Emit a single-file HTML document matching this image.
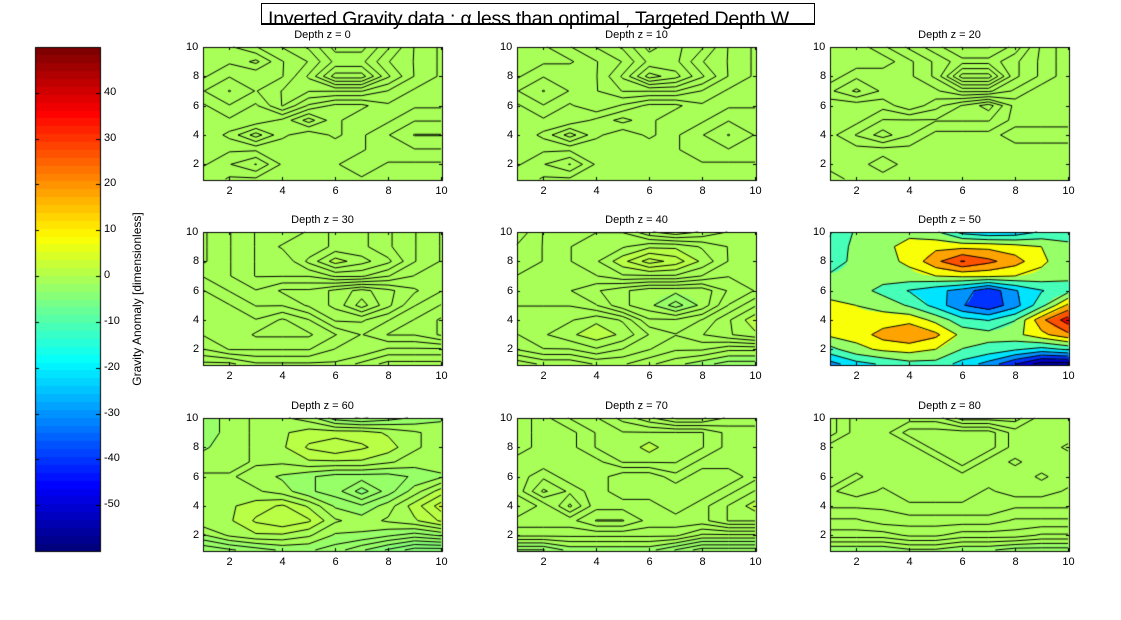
<!DOCTYPE html>
<html><head><meta charset="utf-8">
<style>
body{margin:0;background:#fff;width:1121px;height:620px;overflow:hidden;position:relative;font-family:"Liberation Sans",sans-serif;}
canvas{position:absolute;left:0;top:0}
.t{position:absolute;font-size:11px;color:#000;white-space:nowrap}
.st{position:absolute;font-size:11px;color:#000;white-space:nowrap;transform:translateX(-50%)}
</style></head><body>
<canvas id="c" width="1121" height="620"></canvas>
<div style="position:absolute;left:261px;top:3px;width:552px;height:20px;border:1px solid #000;background:#fff"></div>
<div id="title" style="position:absolute;left:268px;top:8px;font-size:19.5px;white-space:nowrap;letter-spacing:-0.2px">Inverted Gravity data : α less than optimal , Targeted Depth W</div>
<div style="position:absolute;left:261px;top:23px;width:554px;height:1px;background:#000"></div>
<div style="position:absolute;left:137px;top:299px;font-size:12px;white-space:nowrap;transform:translate(-50%,-50%) rotate(-90deg)">Gravity Anomaly [dimensionless]</div>
<div id="labels"></div>
<script>
const titles=["Depth z = 0","Depth z = 10","Depth z = 20","Depth z = 30","Depth z = 40","Depth z = 50","Depth z = 60","Depth z = 70","Depth z = 80"];
const xTicks=[2,4,6,8,10];
const yTicks=[2,4,6,8,10];
const cbTicks=[40,30,20,10,0,-10,-20,-30,-40,-50];
const cMin=-60, cMax=50;
// grids: rows listed from y=10 (top) down to y=1
const z0=[[-.8,-.8,-.65,-.5,-.35,-.05,-.05,-.35,-.65,-.8],[-.8,-.8,-.95,-.65,-.5,-.2,-.2,-.5,-.65,-.8],[-.8,-.65,-.65,-.65,-.35,.1,.1,-.35,-.65,-.8],[-.65,-.5,-.65,-.5,-.5,-.5,-.5,-.65,-.8,-.8],[-.8,-.65,-.8,-.5,-.8,-.95,-.95,-.8,-.8,-.8],[-.8,-.8,-.8,-.95,-1.25,-.95,-.8,-.8,-.65,-.65],[-.8,-.95,-1.25,-.95,-.8,-.95,-.8,-.65,-.5,-.5],[-.8,-.8,-.8,-.8,-.8,-.8,-.8,-.65,-.65,-.65],[-.8,-.65,-.5,-.8,-.8,-.8,-.65,-.8,-.8,-.8],[-.65,-.8,-.8,-.8,-.8,-.8,-.8,-.8,-.8,-.8]];
const z10=[[-.8,-.8,-.65,-.5,-.35,-.05,-.2,-.35,-.65,-.8],[-.8,-.8,-.8,-.65,-.5,-.2,-.2,-.5,-.65,-.8],[-.8,-.65,-.65,-.65,-.35,.1,-.05,-.35,-.65,-.8],[-.65,-.5,-.65,-.65,-.5,-.5,-.5,-.65,-.8,-.8],[-.8,-.65,-.8,-.65,-.8,-.95,-.95,-.8,-.8,-.8],[-.8,-.8,-.8,-.95,-1.1,-.95,-.8,-.8,-.65,-.65],[-.8,-.95,-1.25,-.95,-.8,-.95,-.8,-.65,-.5,-.65],[-.8,-.8,-.8,-.8,-.8,-.8,-.8,-.65,-.65,-.65],[-.8,-.65,-.5,-.8,-.8,-.8,-.8,-.8,-.8,-.8],[-.65,-.8,-.8,-.8,-.8,-.8,-.8,-.8,-.8,-.8]];
const z20=[[-.8,-.8,-.65,-.5,-.35,-.2,-.2,-.35,-.65,-.8],[-.8,-.8,-.8,-.65,-.5,-.35,-.35,-.5,-.65,-.8],[-.8,-.65,-.65,-.65,-.5,-.05,-.05,-.5,-.65,-.8],[-.65,-.5,-.65,-.65,-.65,-.5,-.5,-.65,-.8,-.8],[-.8,-.8,-.8,-.65,-.8,-.95,-1.1,-.8,-.8,-.8],[-.8,-.8,-.95,-.95,-.95,-.95,-.95,-.8,-.8,-.8],[-.8,-.95,-1.1,-.95,-.8,-.8,-.8,-.65,-.65,-.65],[-.8,-.8,-.8,-.8,-.8,-.8,-.8,-.8,-.8,-.8],[-.8,-.8,-.65,-.8,-.8,-.8,-.8,-.8,-.8,-.8],[-.65,-.8,-.8,-.8,-.8,-.8,-.8,-.8,-.8,-.8]];
const z30=[[-.9,-.7,-.5,-.5,-.3,-.1,-.1,-.3,-.5,-.7],[-.9,-.7,-.5,-.3,-.3,-.1,-.1,-.3,-.5,-.7],[-.9,-.7,-.5,-.5,-.1,.3,.1,-.1,-.5,-.7],[-.7,-.7,-.5,-.5,-.5,-.3,-.3,-.5,-.7,-.7],[-.5,-.7,-.7,-.9,-.9,-1.1,-1.3,-1.1,-.9,-.7],[-.5,-.5,-.7,-.7,-.9,-1.1,-1.5,-1.1,-.7,-.5],[-.5,-.5,-.5,-.3,-.5,-.9,-.9,-.7,-.5,-.3],[-.5,-.5,-.3,-.3,-.3,-.5,-.7,-.5,-.5,-.3],[-.7,-.5,-.5,-.5,-.5,-.7,-.7,-.9,-.9,-.9],[-1.1,-1.1,-.9,-.9,-.9,-.9,-1.1,-1.3,-1.3,-1.3]];
const z40=[[-1,-.5,-.25,-.25,-.25,-.75,-1,-.75,-.5,-.5],[-.75,-.5,-.25,0,0,.25,.25,0,-.25,-.5],[-.75,-.5,-.25,0,.5,1,.75,.25,-.25,-.5],[-.5,-.5,-.25,-.25,0,0,0,-.25,-.5,-.5],[-.25,-.25,-.5,-.75,-1,-1.25,-1.25,-1.25,-.75,-.5],[-.25,-.25,-.25,-.5,-1,-1.25,-1.75,-1.25,-.5,0],[0,0,0,.25,0,-.75,-.75,-.5,0,.5],[-.25,0,.25,.5,.25,-.25,-.5,-.25,0,.25],[-.5,-.25,-.25,0,-.25,-.5,-.75,-.75,-1,-1],[-1.25,-1,-1,-.75,-.75,-1,-1.25,-1.5,-1.75,-1.75]];
const z50=[[-12,0,5,5,0,-15,-20,-18,-10,-5],[-10,2,5,12,15,15,15,12,8,0],[-8,2,5,10,25,38,30,22,10,2],[0,2,3,5,8,10,10,8,5,0],[5,3,-5,-12,-18,-25,-38,-22,-12,-5],[10,8,5,-3,-15,-30,-38,-25,-5,20],[12,10,12,15,5,-8,-12,-2,25,42],[10,12,22,26,20,5,2,5,15,25],[-5,5,10,12,8,-2,-5,-10,-15,-10],[-25,-15,-10,-5,-5,-15,-25,-40,-55,-55]];
const z60=[[-1.5,-.5,0,0,-.5,-2,-2.5,-2,-1.5,-1],[-1.5,-.5,0,.5,1,1,1,.5,0,-.5],[-1,-.5,0,.5,1.5,2,1.5,1,0,-.5],[-.5,-.5,0,0,.5,.5,.5,0,-.5,-.5],[0,0,-.5,-1,-1.5,-2,-2,-2,-1.5,-1],[.5,.5,0,-.5,-1.5,-2,-3.5,-2,-.5,1],[.5,.5,1,1.5,.5,-1,-1.5,-.5,1,2.5],[.5,.5,1.5,2,1.5,0,-.5,0,.5,1.5],[-1,0,.5,.5,0,-1,-1,-1.5,-2,-1.5],[-3,-2.5,-2,-1.5,-1.5,-2,-3,-4,-5,-5]];
const z70=[[-.9,-.5,-.1,-.1,-.5,-.9,-1.3,-1.3,-.9,-.9],[-.9,-.5,-.5,-.1,-.1,-.1,-.1,-.1,-.5,-.5],[-.9,-.5,-.5,-.1,-.1,.3,-.1,-.1,-.5,-.5],[-.5,-.5,-.5,-.5,-.1,-.1,-.1,-.5,-.5,-.5],[-.5,-.9,-.5,-.5,-.9,-.9,-.5,-.9,-.9,-.5],[-.5,-1.3,-.9,-.5,-.9,-.9,-.9,-.9,-.5,-.1],[-.1,-.5,-1.3,-.5,-.5,-.5,-.9,-.5,-.1,.3],[-.5,-.5,-.5,-.1,-.1,-.5,-.5,-.5,-.1,-.1],[-.9,-.9,-.9,-.9,-.9,-.9,-.9,-1.3,-1.3,-1.3],[-2.1,-2.1,-1.7,-1.7,-1.7,-1.7,-2.1,-2.5,-2.5,-2.5]];
const z80=[[-.8,-.5,-.5,-.5,-.5,-.8,-.8,-.8,-.5,-.5],[-.8,-.5,-.5,-.2,-.2,-.2,-.2,-.5,-.5,-.5],[-.5,-.5,-.5,-.5,-.2,-.2,-.2,-.5,-.5,-.6],[-.5,-.5,-.5,-.5,-.5,-.2,-.5,-.6,-.5,-.5],[-.5,-.6,-.5,-.5,-.5,-.5,-.5,-.5,-.6,-.5],[-.6,-.5,-.6,-.5,-.5,-.5,-.6,-.5,-.5,-.6],[-.7,-.7,-.7,-.6,-.6,-.6,-.6,-.7,-.7,-.7],[-.9,-.9,-.8,-.8,-.8,-.8,-.8,-.9,-.9,-.9],[-1.1,-1.1,-1.1,-1,-1,-1.1,-1.1,-1.1,-1.2,-1.2],[-1.6,-1.6,-1.6,-1.5,-1.5,-1.6,-1.6,-1.7,-1.7,-1.7]];
const grids=[z0,z10,z20,z30,z40,z50,z60,z70,z80];

const colL=[203,517,830], rowT=[47,232,418], PW=239, PH=133;
function jet(t){t=Math.max(0,Math.min(1,t));t=Math.min(63,Math.floor(t*64))/63;
 const r=Math.max(0,Math.min(1,Math.min(4*t-1.5,-4*t+4.5))),g=Math.max(0,Math.min(1,Math.min(4*t-0.5,-4*t+3.5))),b=Math.max(0,Math.min(1,Math.min(4*t+0.5,-4*t+2.5)));
 return [r*255|0,g*255|0,b*255|0];}
const cv=document.getElementById('c'),ctx=cv.getContext('2d');
const lab=document.getElementById('labels');
function addText(cls,x,y,txt,name){const d=document.createElement('div');d.className=cls;d.style.left=x+'px';d.style.top=y+'px';d.textContent=txt;
 
 
 lab.appendChild(d);}
const cbX=35,cbY=47,cbW=65,cbH=504;
for(let py=0;py<cbH;py++){const v=cMax-(py/cbH)*(cMax-cMin);const c=jet((v-cMin)/(cMax-cMin));ctx.fillStyle=`rgb(${c})`;ctx.fillRect(cbX,cbY+py,cbW,1);}
ctx.strokeStyle='#000';ctx.lineWidth=1;ctx.strokeRect(cbX+0.5,cbY+0.5,cbW,cbH);
cbTicks.forEach(v=>{const y=cbY+(cMax-v)/(cMax-cMin)*cbH;ctx.beginPath();ctx.moveTo(cbX+cbW-4,Math.round(y)+0.5);ctx.lineTo(cbX+cbW,Math.round(y)+0.5);ctx.moveTo(cbX,Math.round(y)+0.5);ctx.lineTo(cbX+4,Math.round(y)+0.5);ctx.stroke();
 addText('t',104,y-7,String(v),'colorbar-tick-label');});
function val(g,x,y){
 const ix=Math.min(8,Math.floor(x-1)),iy=Math.min(8,Math.floor(y-1));const fx=x-1-ix,fy=y-1-iy;
 const a=g[9-iy][ix],b=g[9-iy][ix+1],c=g[8-iy][ix],d=g[8-iy][ix+1];
 return a*(1-fx)*(1-fy)+b*fx*(1-fy)+c*(1-fx)*fy+d*fx*fy;}
grids.forEach((g,k)=>{
 const L=colL[k%3],T=rowT[Math.floor(k/3)];
 let mn=Infinity,mx=-Infinity;g.forEach(r=>r.forEach(v=>{mn=Math.min(mn,v);mx=Math.max(mx,v);}));
 const n=10,levels=[];for(let i=0;i<n;i++)levels.push(mn+(mx-mn)*(i+0.5)/n);
 const img=ctx.createImageData(PW,PH);
 for(let py=0;py<PH;py++)for(let px=0;px<PW;px++){
  const x=1+9*px/(PW-1),y=10-9*py/(PH-1);const v=val(g,x,y);
  let lv=mn;for(const l of levels)if(v>=l)lv=l;
  const c=jet((lv-cMin)/(cMax-cMin));const o=(py*PW+px)*4;img.data[o]=c[0];img.data[o+1]=c[1];img.data[o+2]=c[2];img.data[o+3]=255;}
 ctx.putImageData(img,L,T);
 const sx=x=>L+(x-1)/9*(PW-1), sy=y=>T+(10-y)/9*(PH-1);
 ctx.strokeStyle='#000';ctx.lineWidth=1;ctx.beginPath();
 levels.forEach(l=>{
  for(let iy=1;iy<10;iy++)for(let ix=1;ix<10;ix++){
   const p=[[ix,iy,g[10-iy][ix-1]],[ix+1,iy,g[10-iy][ix]],[ix+1,iy+1,g[9-iy][ix]],[ix,iy+1,g[9-iy][ix-1]]];
   const pts=[];for(let e=0;e<4;e++){const A=p[e],B=p[(e+1)%4];if((A[2]<l)!==(B[2]<l)){const t=(l-A[2])/(B[2]-A[2]);pts.push([A[0]+t*(B[0]-A[0]),A[1]+t*(B[1]-A[1])]);}}
   for(let q=0;q+1<pts.length;q+=2){ctx.moveTo(sx(pts[q][0]),sy(pts[q][1]));ctx.lineTo(sx(pts[q+1][0]),sy(pts[q+1][1]));}
  }});
 ctx.stroke();
 ctx.strokeRect(L+0.5,T+0.5,PW,PH);
 ctx.beginPath();
 xTicks.forEach(v=>{const x=Math.round(sx(v))+0.5;ctx.moveTo(x,T+PH);ctx.lineTo(x,T+PH-3);ctx.moveTo(x,T);ctx.lineTo(x,T+3);
  addText('st',x,T+PH+5,String(v),'x-tick-label');});
 yTicks.forEach(v=>{const y=Math.round(sy(v))+0.5;ctx.moveTo(L,y);ctx.lineTo(L+3,y);ctx.moveTo(L+PW,y);ctx.lineTo(L+PW-3,y);
  addText('t',L-(v==10?17:10),y-7,String(v),'y-tick-label');});
 ctx.stroke();
 addText('st',L+PW/2,T-18,titles[k],'subplot-title');
});
document.body.appendChild(document.getElementById('title'));
</script>
</body></html>
